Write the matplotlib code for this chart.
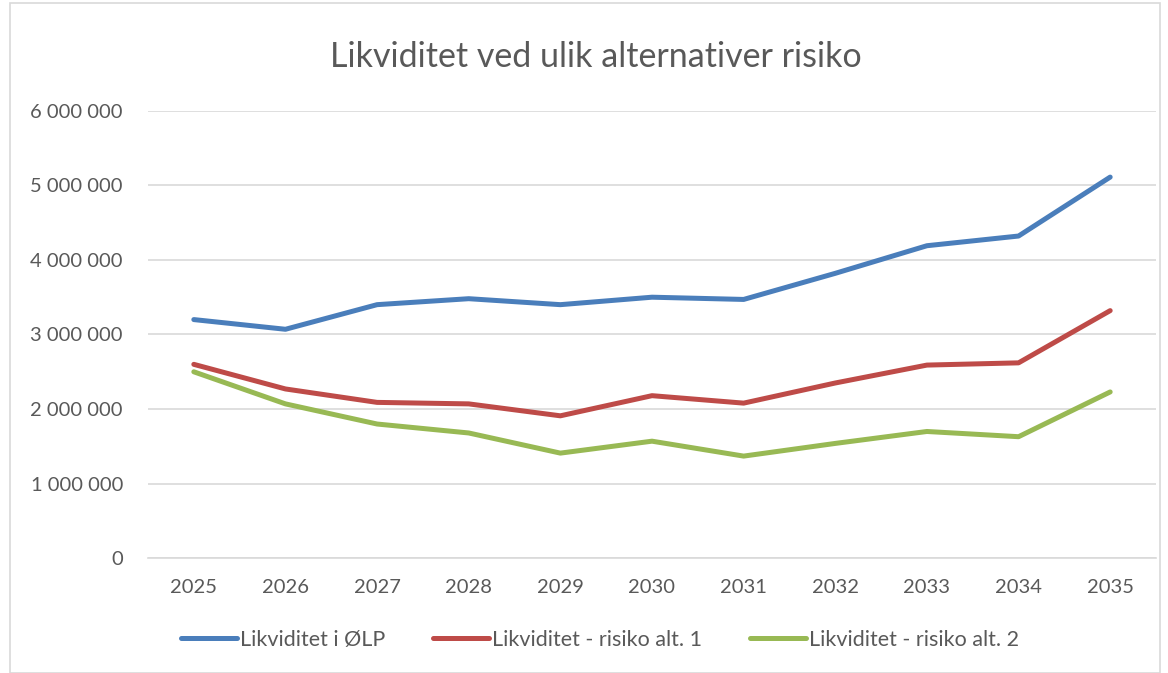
import matplotlib
matplotlib.use("Agg")
import matplotlib.pyplot as plt
from matplotlib.ticker import FuncFormatter
from matplotlib.patches import Rectangle

years = [2025, 2026, 2027, 2028, 2029, 2030, 2031, 2032, 2033, 2034, 2035]
likviditet_olp = [3.20e6, 3.07e6, 3.40e6, 3.48e6, 3.40e6, 3.50e6, 3.47e6, 3.82e6, 4.19e6, 4.32e6, 5.11e6]
risiko_alt1 = [2.60e6, 2.27e6, 2.09e6, 2.07e6, 1.91e6, 2.18e6, 2.08e6, 2.35e6, 2.59e6, 2.62e6, 3.32e6]
risiko_alt2 = [2.50e6, 2.07e6, 1.80e6, 1.68e6, 1.41e6, 1.57e6, 1.37e6, 1.54e6, 1.70e6, 1.63e6, 2.23e6]
series_names = ["Likviditet i ØLP", "Likviditet - risiko alt. 1", "Likviditet - risiko alt. 2"]
colors = ["#4a7ebb", "#be4b48", "#98b954"]
title = "Likviditet ved ulik alternativer risiko"

plt.rcParams['font.family'] = ['Lato', 'DejaVu Sans']

fig = plt.figure(figsize=(11.68, 6.73), dpi=100)
ax = fig.add_axes([148/1168, 1-558.3/673, (1156-148)/1168, (558.3-110.7)/673])

for vals, name, c in zip([likviditet_olp, risiko_alt1, risiko_alt2], series_names, colors):
    ax.plot(years, vals, color=c, lw=3.6, label=name, solid_capstyle='round', solid_joinstyle='round')

ax.set_xlim(2024.5, 2035.5)
ax.set_ylim(0, 6e6)
ax.set_yticks([0, 1e6, 2e6, 3e6, 4e6, 5e6, 6e6])
ax.set_xticks(years)
ax.yaxis.set_major_formatter(FuncFormatter(lambda v, p: f"{int(v):,}".replace(",", " ")))
ax.grid(axis='y', color='#d9d9d9', lw=1.2)
ax.set_axisbelow(True)
for s in ['top', 'right', 'left']:
    ax.spines[s].set_visible(False)
ax.spines['bottom'].set_color('#d9d9d9')
ax.spines['bottom'].set_linewidth(1.2)
ax.tick_params(axis='both', length=0, colors='#595959', labelsize=14.5)
ax.tick_params(axis='y', pad=18)
ax.tick_params(axis='x', pad=15)

fig.text(596/1168, 1-57/673, title, ha='center', va='center', fontsize=24.5, color='#595959')

leg = fig.legend(loc='center', bbox_to_anchor=(600/1168, 1-640/673), ncol=3, frameon=False,
                 fontsize=15.5, handlelength=2.6, handletextpad=0.15, columnspacing=2.2)
for t in leg.get_texts():
    t.set_color('#595959')

fig.patches.append(Rectangle((10/1168, 0.0), 1150/1168, 0.995, transform=fig.transFigure,
                             fill=False, edgecolor='#d9d9d9', lw=1.2))

fig.savefig("out.png", dpi=100, facecolor='white')
